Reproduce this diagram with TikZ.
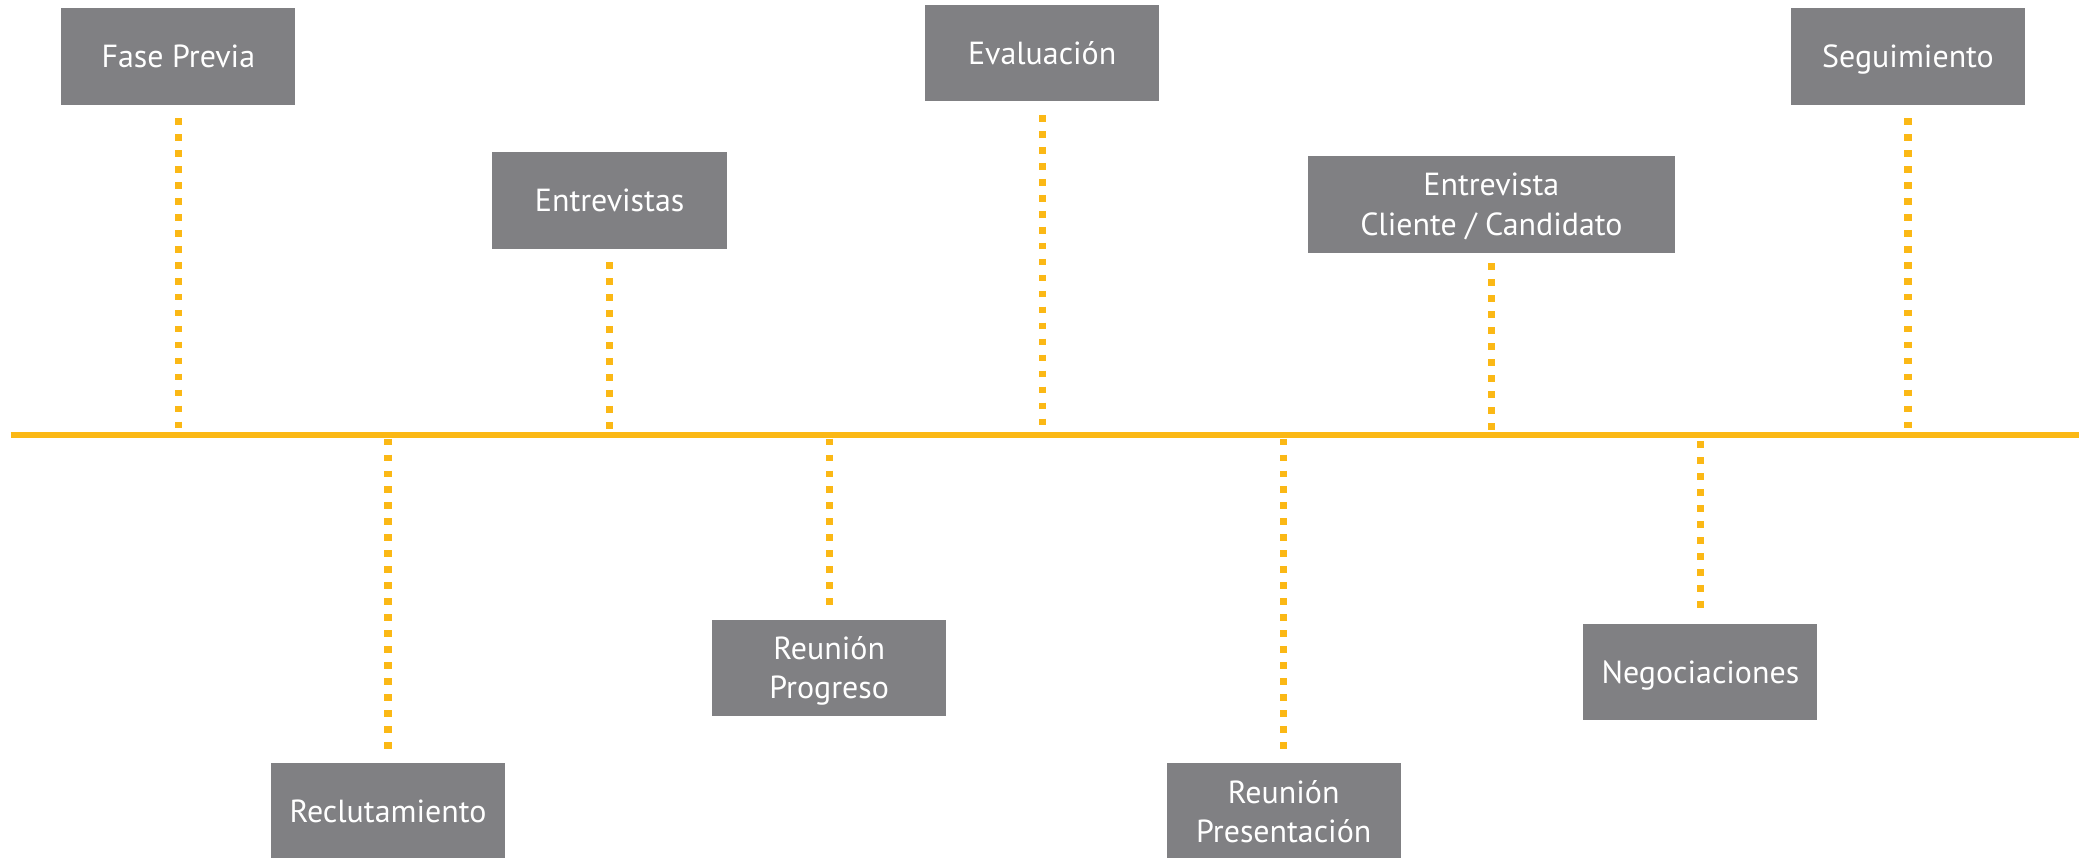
\documentclass[tikz,border=0pt]{standalone}
\usepackage{fontspec}
\setmainfont{PT Sans}
\definecolor{boxgray}{RGB}{128,128,131}
\definecolor{tlyellow}{RGB}{251,184,21}
\begin{document}
\begin{tikzpicture}[x=1pt,y=-1pt,
  stagebox/.style={fill=boxgray, text=white, minimum width=176pt, minimum height=72.5pt,
    inner sep=0pt, align=center, font=\fontsize{24}{29.5}\selectfont,
    text height=16.8pt, text depth=0pt},
  twoline/.style={text height=46.3pt},
  conn/.style={draw=tlyellow, line width=5.5pt, dash pattern=on 5pt off 7pt},
  timeline/.style={draw=tlyellow, line width=4.5pt}]
\useasboundingbox (0,0) rectangle (1568,644.6);

% timeline
\coordinate (tlL) at (8,326.5);
\coordinate (tlR) at (1562,326.5);
\draw[timeline] (tlL) -- (tlR);

% upper stages
\node[stagebox] (fp)  at (134,42.3)    {Fase Previa};
\node[stagebox] (ent) at (458,150.5)   {Entrevistas};
\node[stagebox] (eva) at (783,40)      {Evaluación};
\node[stagebox, twoline, minimum width=276pt] (ecc) at (1120.5,153.5) {Entrevista\\Cliente / Candidato};
\node[stagebox] (seg) at (1433.5,42.3) {Seguimiento};

% lower stages
\node[stagebox] (rec) at (291.5,609.75) {Reclutamiento};
\node[stagebox, twoline] (rpg) at (623,502)      {Reunión\\Progreso};
\node[stagebox, twoline] (rps) at (964.5,609.75) {Reunión\\Presentación};
\node[stagebox] (neg) at (1277.5,505)   {Negociaciones};

% timeline contact points
\coordinate (fpE)  at (134,323);
\coordinate (entE) at (458,323);
\coordinate (evaE) at (783,323);
\coordinate (eccE) at (1120.5,323);
\coordinate (segE) at (1433.5,323);
\coordinate (recS) at (291.5,329.5);
\coordinate (rpgS) at (623,329.5);
\coordinate (rpsS) at (964.5,329.5);
\coordinate (negS) at (1277.5,331.5);

% connectors
\draw[conn, shorten <=10pt] (fp)  -- (fpE);
\draw[conn, shorten <=10pt] (ent) -- (entE);
\draw[conn, shorten <=10pt] (eva) -- (evaE);
\draw[conn, shorten <=8pt]  (ecc) -- (eccE);
\draw[conn, shorten <=10pt] (seg) -- (segE);
\draw[conn, shorten >=10pt] (recS) -- (rec);
\draw[conn, shorten >=10pt] (rpgS) -- (rpg);
\draw[conn, shorten >=10pt] (rpsS) -- (rps);
\draw[conn, shorten >=10pt] (negS) -- (neg);
\end{tikzpicture}
\end{document}
